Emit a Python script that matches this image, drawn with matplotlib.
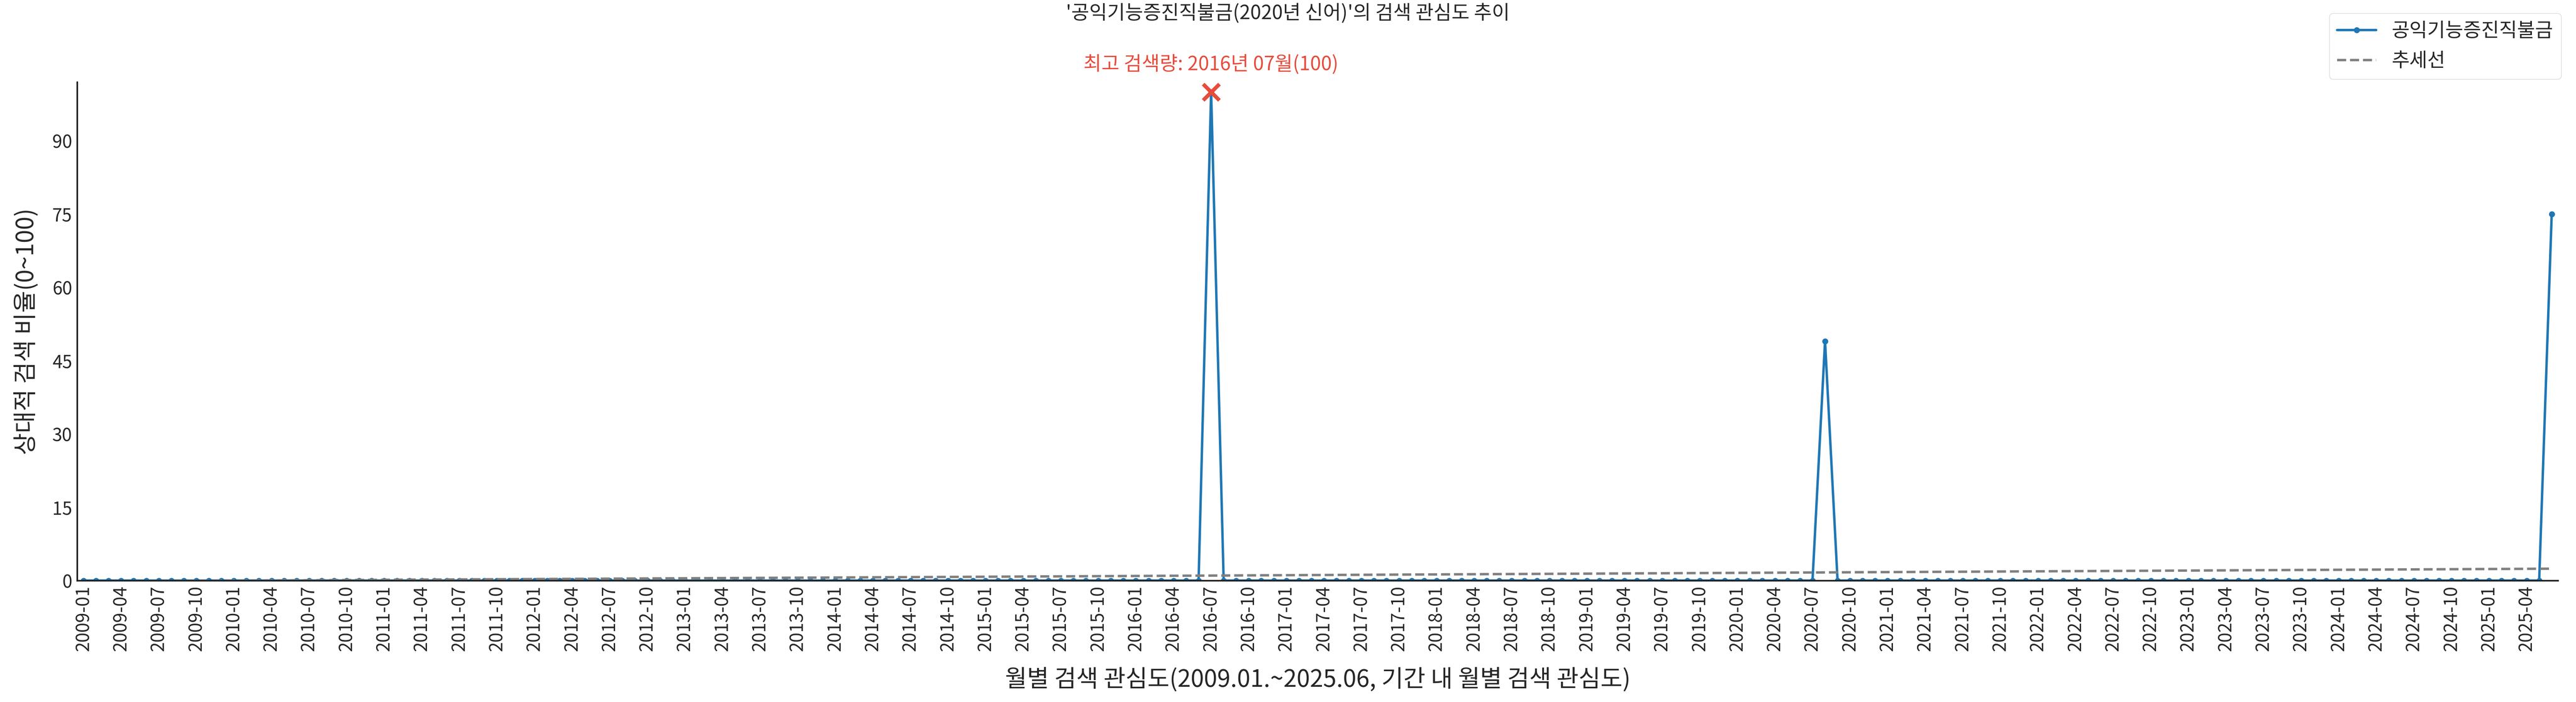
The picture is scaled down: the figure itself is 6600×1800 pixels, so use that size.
import numpy as np
import pandas as pd
import matplotlib
matplotlib.use("Agg")
import matplotlib.pyplot as plt
import seaborn as sns

# ── data ─────────────────────────────────────────────
months = pd.period_range("2009-01", "2025-06", freq="M").strftime("%Y-%m").tolist()
values = [0] * len(months)
peaks = {"2016-07": 100, "2020-08": 49, "2025-06": 75}
for k, v in peaks.items():
    values[months.index(k)] = v
tick_labels = months[::3]

sns.set_theme(style="white")
plt.rcParams["font.family"] = ["Noto Sans CJK KR", "DejaVu Sans"]

x = np.arange(len(months))
y = np.array(values, dtype=float)
coef = np.polyfit(x, y, 1)
trend = np.polyval(coef, x)

fig, ax = plt.subplots(figsize=(66, 18), dpi=100)
ax.plot(x, y, color="#1f77b4", linewidth=4.5, marker="o", markersize=10,
        label="공익기능증진직불금")
ax.plot(x, trend, color="gray", linestyle="--", linewidth=4.5, label="추세선")

imax = int(np.argmax(y))
ax.scatter([x[imax]], [y[imax]], marker="x", color="#e74c3c", s=900,
           linewidths=7, zorder=5)
ax.annotate(f"최고 검색량: {months[imax][:4]}년 {months[imax][5:]}월({int(y[imax])})",
            (x[imax], y[imax]), xytext=(0, 40), textcoords="offset points",
            ha="center", color="#e74c3c", fontsize=36)

ax.set_xlim(-0.5, len(months) - 0.5)
ax.set_ylim(0, 102)
ax.set_yticks(range(0, 91, 15))
ax.set_xticks(x[::3])
ax.set_xticklabels(tick_labels, rotation=90, fontsize=33)
ax.tick_params(axis="y", labelsize=33)
ax.set_xlabel("월별 검색 관심도(2009.01.~2025.06, 기간 내 월별 검색 관심도)", fontsize=44, labelpad=30)
ax.set_ylabel("상대적 검색 비율(0~100)", fontsize=44, labelpad=25)
fig.suptitle("'공익기능증진직불금(2020년 신어)'의 검색 관심도 추이", fontsize=36, y=0.995)
for s in ["top", "right"]:
    ax.spines[s].set_visible(False)
for s in ["left", "bottom"]:
    ax.spines[s].set_color("#222222")
    ax.spines[s].set_linewidth(3)
fig.legend(loc="upper right", fontsize=36, bbox_to_anchor=(0.998, 0.995))

fig.subplots_adjust(left=0.03, right=0.993, top=0.883, bottom=0.173)
fig.savefig("out.png", dpi=100)
